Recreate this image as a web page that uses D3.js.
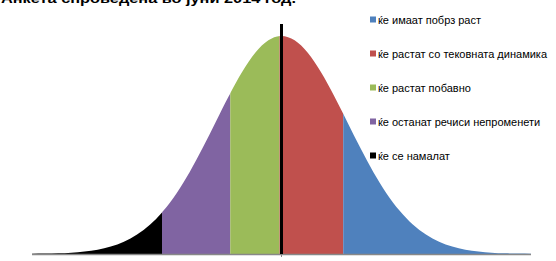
<!DOCTYPE html>
<html>
<meta charset="utf-8">
<title>Анкета</title>
<style>
  body { margin: 0; background: #fff; }
  svg { display: block; font-family: "Liberation Sans", Arial, sans-serif; }
  .legend text { font-size: 11px; fill: #000; }
  .title { font-size: 13px; font-weight: bold; }
</style>
<body>
<div id="chart"></div>
<script src="https://cdn.jsdelivr.net/npm/d3@7"></script>
<script>

// curve: position (in sd units) and relative height
const zs = [-3.8, -3.6, -3.4, -3.2, -3.0, -2.8, -2.6, -2.4, -2.2, -2.0, -1.8, -1.6, -1.4, -1.2, -1.0, -0.8, -0.6, -0.4, -0.2, 0,
            0.2, 0.4, 0.6, 0.8, 1.0, 1.2, 1.4, 1.6, 1.8, 2.0, 2.2, 2.4, 2.6, 2.8, 3.0, 3.2, 3.4, 3.6, 3.8];
const heights = [0.001, 0.002, 0.003, 0.006, 0.011, 0.020, 0.034, 0.056, 0.089, 0.135, 0.198, 0.278, 0.375, 0.487, 0.607, 0.726, 0.835, 0.923, 0.980, 1,
                 0.980, 0.923, 0.835, 0.726, 0.607, 0.487, 0.375, 0.278, 0.198, 0.135, 0.089, 0.056, 0.034, 0.020, 0.011, 0.006, 0.003, 0.002, 0.001];

// segment borders (left to right): black | purple | green | red | blue
const borders = [-3.8, -1.82, -0.78, -0.03, 0.94, 3.8];
const segColors = ['#000000', '#8064A2', '#9BBB59', '#C0504D', '#4F81BD'];

const legendLabels = ['ќе имаат побрз раст', 'ќе растат со тековната динамика', 'ќе растат побавно',
                      'ќе останат речиси непроменети', 'ќе се намалат'];
const legendColors = ['#4F81BD', '#C0504D', '#9BBB59', '#8064A2', '#000000'];

const markerZ = 0;
const markerTop = 1.055;

const width = 556, height = 261;

const svg = d3.select('#chart').append('svg')
  .attr('width', width)
  .attr('height', height);

const x = d3.scaleLinear().domain([-3.8, 3.8]).range([32, 531]);
const y = d3.scaleLinear().domain([0, 1]).range([254, 36]);

const pts = zs.map((z, i) => [z, heights[i]]);

const area = d3.area()
  .x(d => x(d[0]))
  .y0(y(0))
  .y1(d => y(d[1]))
  .curve(d3.curveMonotoneX);

const defs = svg.append('defs');
segColors.forEach((c, i) => {
  defs.append('clipPath').attr('id', 'seg' + i)
    .append('rect')
    .attr('x', x(borders[i]))
    .attr('y', 0)
    .attr('width', x(borders[i + 1]) - x(borders[i]))
    .attr('height', height);

  svg.append('path')
    .datum(pts)
    .attr('d', area)
    .attr('fill', c)
    .attr('clip-path', `url(#seg${i})`);
});

// axis
svg.append('line')
  .attr('x1', x(-3.8)).attr('x2', x(3.8))
  .attr('y1', y(0) + 0.5).attr('y2', y(0) + 0.5)
  .attr('stroke', '#888').attr('stroke-width', 1.5);

svg.append('line')
  .attr('x1', x(0)).attr('x2', x(0))
  .attr('y1', y(0)).attr('y2', y(0) + 3)
  .attr('stroke', '#888').attr('stroke-width', 1);

// vertical marker
svg.append('line')
  .attr('x1', x(markerZ)).attr('x2', x(markerZ))
  .attr('y1', y(markerTop)).attr('y2', y(0))
  .attr('stroke', '#000').attr('stroke-width', 3);

// title, cut at the top like the original
svg.append('text')
  .attr('class', 'title')
  .attr('x', 1)
  .attr('y', 3)
  .attr('textLength', 295)
  .attr('lengthAdjust', 'spacingAndGlyphs')
  .text('Анкета спроведена во јуни 2014 год.');

const legend = svg.append('g').attr('class', 'legend');
const item = legend.selectAll('g')
  .data(legendLabels)
  .enter().append('g')
  .attr('transform', (d, i) => `translate(370,${19.5 + i * 34})`);

item.append('rect')
  .attr('x', 0).attr('y', -3)
  .attr('width', 6).attr('height', 6)
  .attr('fill', (d, i) => legendColors[i]);

item.append('text')
  .attr('x', 8)
  .attr('y', 4)
  .text(d => d);

</script>
</body>
</html>
